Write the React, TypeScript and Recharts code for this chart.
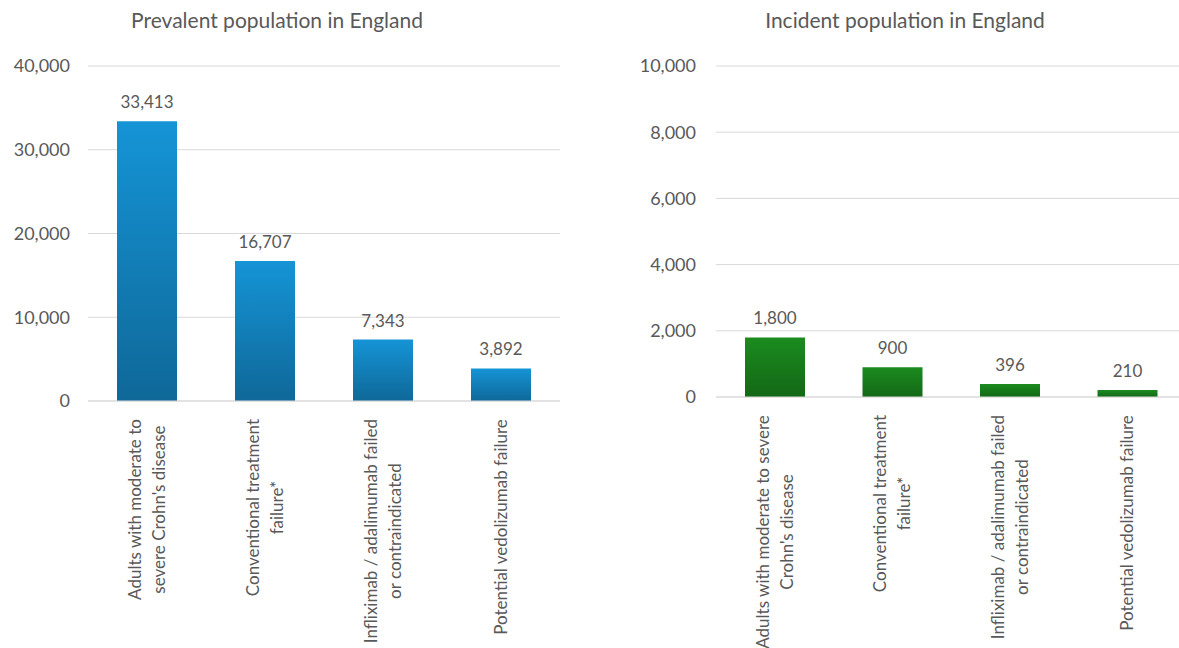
import React from 'react';
import { BarChart, Bar, XAxis, YAxis, CartesianGrid, LabelList } from 'recharts';

const categoriesPrevalent = [
  "Adults with moderate to\nsevere Crohn's disease",
  'Conventional treatment\nfailure*',
  'Infliximab / adalimumab failed\nor contraindicated',
  'Potential vedolizumab failure',
];
const categoriesIncident = [
  "Adults with moderate to severe\nCrohn's disease",
  'Conventional treatment\nfailure*',
  'Infliximab / adalimumab failed\nor contraindicated',
  'Potential vedolizumab failure',
];
const prevalentValues = [33413, 16707, 7343, 3892];
const incidentValues = [1800, 900, 396, 210];
const prevalentTicks = [0, 10000, 20000, 30000, 40000];
const incidentTicks = [0, 2000, 4000, 6000, 8000, 10000];

const prevalentData = categoriesPrevalent.map((c, i) => ({ name: c, value: prevalentValues[i] }));
const incidentData = categoriesIncident.map((c, i) => ({ name: c, value: incidentValues[i] }));

const FONT = 'Lato, "Open Sans", sans-serif';
const TEXT = '#595959';
const LABEL_SIZE = 17;
const fmt = (v: any) => Number(v).toLocaleString('en-US');

let ctx: CanvasRenderingContext2D | null = null;
const measure = (s: string) => {
  if (!ctx && typeof document !== 'undefined') {
    ctx = document.createElement('canvas').getContext('2d');
  }
  if (!ctx) return s.length * LABEL_SIZE * 0.48;
  ctx.font = `${LABEL_SIZE}px Lato`;
  return ctx.measureText(s).width;
};

const CategoryTick = (props: any) => {
  const { x, y, payload } = props;
  const lines = String(payload.value).split('\n');
  const lh = 24;
  const start = -((lines.length - 1) * lh) / 2;
  const maxW = Math.max(...lines.map(measure));
  const cxr = -(10 + maxW / 2);
  return (
    <g transform={`translate(${x},${y})`}>
      <text transform="rotate(-90)" textAnchor="middle" fill={TEXT} fontFamily={FONT} fontSize={LABEL_SIZE}>
        {lines.map((l, i) => (
          <tspan key={i} x={cxr} y={start + i * lh + 6}>
            {l}
          </tspan>
        ))}
      </text>
    </g>
  );
};

const Title = ({ text, cx }: { text: string; cx: number }) => (
  <div
    style={{
      position: 'absolute',
      left: cx - 250,
      width: 500,
      top: 6,
      textAlign: 'center',
      fontFamily: FONT,
      fontSize: 21,
      color: TEXT,
      lineHeight: '28px',
    }}
  >
    {text}
  </div>
);

export default function App() {
  return (
    <div
      style={{
        position: 'absolute',
        left: 0,
        top: 0,
        width: 1179,
        height: 648,
        overflow: 'hidden',
        background: '#fff',
      }}
    >
      <Title text="Prevalent population in England" cx={277} />
      <Title text="Incident population in England" cx={905} />
      <div style={{ position: 'absolute', left: 0, top: 0 }}>
        <BarChart width={590} height={648} data={prevalentData} margin={{ top: 66, right: 30, bottom: 0, left: 0 }}>
          <defs>
            <linearGradient id="blueGrad" x1="0" y1="0" x2="0" y2="1">
              <stop offset="0%" stopColor="#1594d6" />
              <stop offset="100%" stopColor="#0f6898" />
            </linearGradient>
          </defs>
          <CartesianGrid vertical={false} stroke="#d9d9d9" />
          <XAxis
            dataKey="name"
            height={247}
            interval={0}
            tickLine={false}
            axisLine={{ stroke: '#d9d9d9' }}
            tick={<CategoryTick />}
          />
          <YAxis
            width={88}
            domain={[0, 40000]}
            ticks={prevalentTicks}
            tickFormatter={fmt}
            tickLine={false}
            axisLine={false}
            tickSize={0}
            tickMargin={18}
            tick={{ fill: TEXT, fontFamily: FONT, fontSize: 18 }}
          />
          <Bar dataKey="value" fill="url(#blueGrad)" barSize={60} isAnimationActive={false}>
            <LabelList
              dataKey="value"
              position="top"
              offset={13}
              formatter={fmt}
              style={{ fill: TEXT, fontFamily: FONT, fontSize: 17 }}
            />
          </Bar>
        </BarChart>
      </div>
      <div style={{ position: 'absolute', left: 600, top: 0 }}>
        <BarChart width={586} height={648} data={incidentData} margin={{ top: 66, right: 0, bottom: 0, left: 0 }}>
          <defs>
            <linearGradient id="greenGrad" x1="0" y1="0" x2="0" y2="1">
              <stop offset="0%" stopColor="#1b8b1f" />
              <stop offset="100%" stopColor="#136816" />
            </linearGradient>
          </defs>
          <CartesianGrid vertical={false} stroke="#d9d9d9" />
          <XAxis
            dataKey="name"
            height={251}
            interval={0}
            tickLine={false}
            axisLine={{ stroke: '#d9d9d9' }}
            tick={<CategoryTick />}
          />
          <YAxis
            width={116}
            domain={[0, 10000]}
            ticks={incidentTicks}
            tickFormatter={fmt}
            tickLine={false}
            axisLine={false}
            tickSize={0}
            tickMargin={20}
            tick={{ fill: TEXT, fontFamily: FONT, fontSize: 18 }}
          />
          <Bar dataKey="value" fill="url(#greenGrad)" barSize={60} isAnimationActive={false}>
            <LabelList
              dataKey="value"
              position="top"
              offset={13}
              formatter={fmt}
              style={{ fill: TEXT, fontFamily: FONT, fontSize: 17 }}
            />
          </Bar>
        </BarChart>
      </div>
    </div>
  );
}
